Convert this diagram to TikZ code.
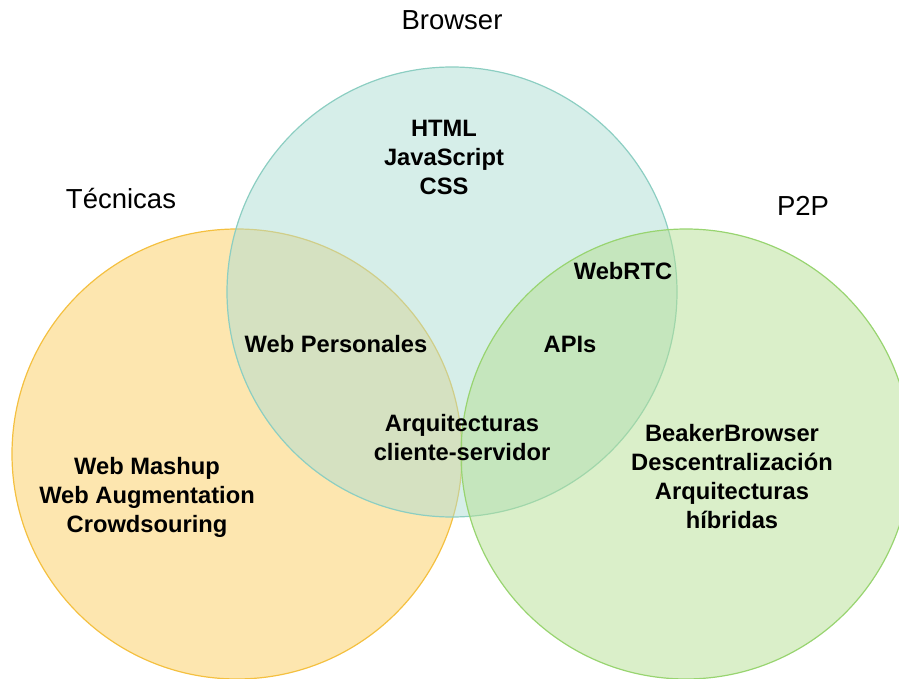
\documentclass[tikz,border=0pt]{standalone}
\usepackage{fontspec}
\setmainfont{Liberation Sans}
\definecolor{tealfill}{RGB}{173,221,211}
\definecolor{tealline}{RGB}{140,206,194}
\definecolor{orangefill}{RGB}{251,205,95}
\definecolor{orangeline}{RGB}{244,192,64}
\definecolor{greenfill}{RGB}{181,223,147}
\definecolor{greenline}{RGB}{152,212,112}
\begin{document}
\begin{tikzpicture}[
  x=1pt,y=-1pt,
  set/.style={circle,minimum size=450pt,inner sep=0pt,line width=1.2pt,fill opacity=0.5},
  title/.style={font=\fontsize{27.5}{32}\selectfont,inner sep=0pt},
  item/.style={font=\fontsize{23.7}{29}\selectfont\bfseries,align=center,inner sep=0pt}
]
\useasboundingbox (0,0) rectangle (899,679);
\begin{scope}
\clip (0,0) rectangle (899,679);
\node[set,draw=orangeline,fill=orangefill] (tecnicas) at (237,454) {};
\node[set,draw=tealline,fill=tealfill] (browser) at (452,292) {};
\node[set,draw=greenline,fill=greenfill] (p2p) at (686,454) {};
\end{scope}

\node[title] (tbrowser) at (452,20) {Browser};
\node[title] (ttecnicas) at (121,199) {Técnicas};
\node[title] (tp2p) at (803,206) {P2P};

\node[item] (html) at (444,157) {HTML\\JavaScript\\CSS};
\node[item] (webrtc) at (623,271) {WebRTC};
\node[item] (webpers) at (336,344) {Web Personales};
\node[item] (apis) at (570,344) {APIs};
\node[item] (arq) at (462,438) {Arquitecturas\\cliente-servidor};
\node[item] (mashup) at (147,497) {Web Mashup\\Web Augmentation\\Crowdsouring};
\node[item] (beaker) at (732,477) {BeakerBrowser\\Descentralización\\Arquitecturas\\híbridas};
\end{tikzpicture}
\end{document}
